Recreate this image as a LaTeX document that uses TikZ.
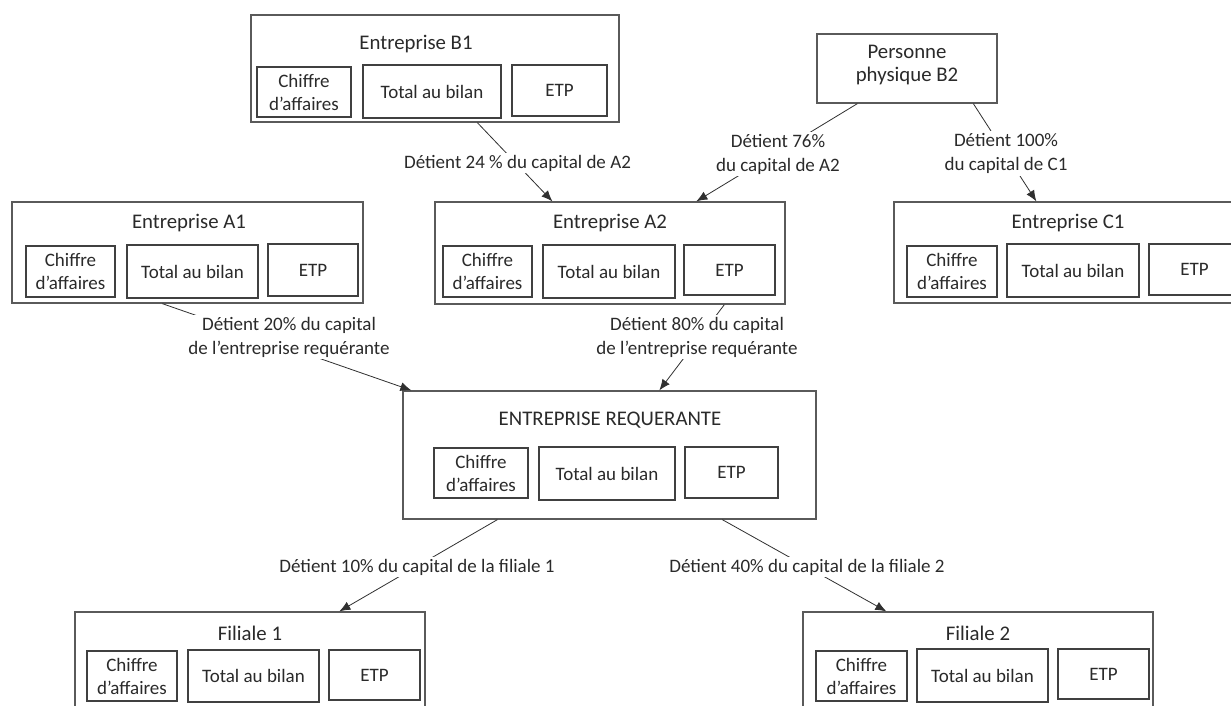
\documentclass[tikz,border=0pt]{standalone}
\usepackage{fontspec}
\setmainfont{Carlito}
\usetikzlibrary{arrows.meta,calc}
\definecolor{txt}{HTML}{2A2A2A}
\definecolor{outerc}{HTML}{5A5A5A}
\definecolor{innerc}{HTML}{404040}
\definecolor{linec}{HTML}{303030}
\begin{document}
\begin{tikzpicture}[x=1pt,y=-1pt,
  outerbox/.style={draw=outerc,line width=1.3pt,inner sep=0pt,anchor=center},
  innerbox/.style={draw=innerc,line width=1.1pt,inner sep=0pt,anchor=center,align=center,text=txt,
    font=\fontsize{19}{23}\selectfont},
  titletext/.style={inner sep=0pt,anchor=center,text=txt,font=\fontsize{20.8}{24}\selectfont},
  bodytext/.style={inner sep=0pt,anchor=center,align=center,text=txt,font=\fontsize{19}{23}\selectfont},
  lbl/.style={fill=white,inner sep=2pt,anchor=center,align=center,text=txt,font=\fontsize{19}{24}\selectfont},
  conn/.style={draw=linec,line width=0.8pt,-{Latex[length=11pt,width=9pt]}}]
\useasboundingbox (0,0) rectangle (1231,706);
\clip (0,0) rectangle (1231,706);
\fill[white] (0,0) rectangle (1231,706);

% Entreprise B1
\node[outerbox,minimum width=368,minimum height=107] (B1) at (435,68.5) {};
\node[titletext] (B1title) at (416,44) {Entreprise B1};
\node[innerbox,minimum width=94,minimum height=50] (B1c) at (304,92) {Chiffre\\d’affaires};
\node[innerbox,minimum width=138,minimum height=53] (B1t) at (432,91.5) {Total au bilan};
\node[innerbox,minimum width=95,minimum height=51] (B1e) at (559.5,90.5) {ETP};

% Personne physique B2
\node[outerbox,minimum width=180,minimum height=69] (B2) at (907,68.5) {};
\node[bodytext,font=\fontsize{20.8}{23}\selectfont] (B2text) at (907,65.5) {Personne\\physique B2};

% Entreprise A1
\node[outerbox,minimum width=351,minimum height=101] (A1) at (187.5,252.5) {};
\node[titletext] (A1title) at (189,223) {Entreprise A1};
\node[innerbox,minimum width=89,minimum height=51] (A1c) at (70.5,271.5) {Chiffre\\d’affaires};
\node[innerbox,minimum width=131,minimum height=53] (A1t) at (192.5,271.5) {Total au bilan};
\node[innerbox,minimum width=90,minimum height=52] (A1e) at (313,270) {ETP};

% Entreprise A2
\node[outerbox,minimum width=350,minimum height=102] (A2) at (610,253) {};
\node[titletext] (A2title) at (610,223) {Entreprise A2};
\node[innerbox,minimum width=89,minimum height=51] (A2c) at (487.5,271.5) {Chiffre\\d’affaires};
\node[innerbox,minimum width=132,minimum height=53] (A2t) at (609,271.5) {Total au bilan};
\node[innerbox,minimum width=91,minimum height=50] (A2e) at (729.5,270) {ETP};

% Entreprise C1
\node[outerbox,minimum width=356,minimum height=101] (C1) at (1072,252.5) {};
\node[titletext] (C1title) at (1068,223) {Entreprise C1};
\node[innerbox,minimum width=90,minimum height=51] (C1c) at (952,271.5) {Chiffre\\d’affaires};
\node[innerbox,minimum width=132,minimum height=53] (C1t) at (1073,270.5) {Total au bilan};
\node[innerbox,minimum width=91,minimum height=51] (C1e) at (1194.5,269.5) {ETP};

% Entreprise requerante
\node[outerbox,minimum width=413,minimum height=128] (ER) at (609.5,455) {};
\node[titletext] (ERtitle) at (610,420) {ENTREPRISE REQUERANTE};
\node[innerbox,minimum width=94,minimum height=50] (ERc) at (481,473) {Chiffre\\d’affaires};
\node[innerbox,minimum width=136,minimum height=53] (ERt) at (607,473.5) {Total au bilan};
\node[innerbox,minimum width=93,minimum height=51] (ERe) at (731.5,472.5) {ETP};

% Filiale 1
\node[outerbox,minimum width=350,minimum height=108] (F1) at (250,666) {};
\node[titletext] (F1title) at (250,633) {Filiale 1};
\node[innerbox,minimum width=90,minimum height=50] (F1c) at (132,676) {Chiffre\\d’affaires};
\node[innerbox,minimum width=131,minimum height=52] (F1t) at (253.5,676) {Total au bilan};
\node[innerbox,minimum width=91,minimum height=50] (F1e) at (374.5,675) {ETP};

% Filiale 2
\node[outerbox,minimum width=350,minimum height=108] (F2) at (978,666) {};
\node[titletext] (F2title) at (978,633) {Filiale 2};
\node[innerbox,minimum width=91,minimum height=50] (F2c) at (861.5,676) {Chiffre\\d’affaires};
\node[innerbox,minimum width=131,minimum height=53] (F2t) at (982.5,675.5) {Total au bilan};
\node[innerbox,minimum width=91,minimum height=50] (F2e) at (1103.5,674) {ETP};

% connectors
\draw[conn] ($(B1.south west)+(227,0)$) -- ($(A2.north west)+(118,0)$);
\draw[conn] ($(B2.south west)+(41,0)$) -- ($(A2.north west)+(262,0)$);
\draw[conn] ($(B2.south west)+(157,0)$) -- ($(C1.north west)+(143,0)$);
\draw[conn] ($(A1.south west)+(151,0)$) -- ($(ER.north west)+(9,0)$);
\draw[conn] ($(A2.south west)+(290,0)$) -- ($(ER.north west)+(257,0)$);
\draw[conn] ($(ER.south west)+(95,0)$) -- ($(F1.north west)+(265,0)$);
\draw[conn] ($(ER.south west)+(320,0)$) -- ($(F2.north west)+(84,0)$);

% labels
\node[lbl] (lB1) at (517.5,163) {Détient 24 \% du capital de A2};
\node[lbl] (lB2a) at (778,154) {Détient 76\%\\du capital de A2};
\node[lbl] (lB2c) at (1006,153.5) {Détient 100\%\\du capital de C1};
\node[lbl] (lA1) at (289,337) {Détient 20\% du capital\\de l’entreprise requérante};
\node[lbl] (lA2) at (697,337) {Détient 80\% du capital\\de l’entreprise requérante};
\node[lbl] (lF1) at (417,567) {Détient 10\% du capital de la filiale 1};
\node[lbl] (lF2) at (807,567) {Détient 40\% du capital de la filiale 2};
\end{tikzpicture}
\end{document}
